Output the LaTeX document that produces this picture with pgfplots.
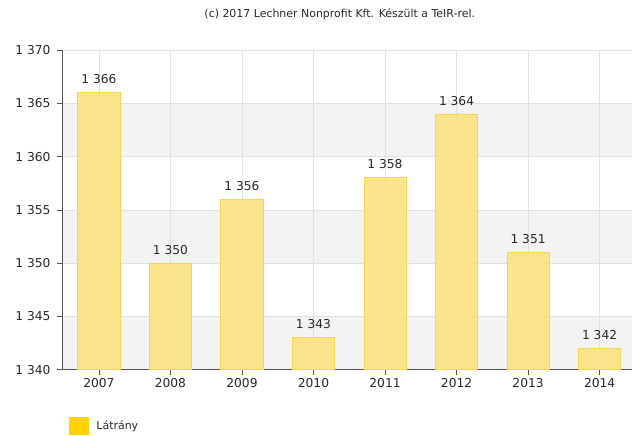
\documentclass[border=0pt]{standalone}
\usepackage{pgfplots}
\pgfplotsset{compat=1.18}
\usepackage{fontspec}
\setmainfont{DejaVu Sans}
\definecolor{barfill}{RGB}{250,226,128}
\definecolor{barline}{RGB}{246,214,80}
\definecolor{band}{RGB}{243,243,243}
\definecolor{gridc}{RGB}{225,225,225}
\definecolor{txt}{RGB}{40,40,40}
\definecolor{legc}{RGB}{255,210,0}
\begin{document}
\begin{tikzpicture}
\begin{axis}[
  set layers,
  at={(62bp,65bp)}, anchor=south west,
  scale only axis, width=570bp, height=320bp,
  xmin=-0.517, xmax=7.447,
  ymin=1340, ymax=1370,
  ytick={1340,1345,...,1370},
  xtick={0,...,7},
  xticklabels={2007,2008,2009,2010,2011,2012,2013,2014},
  axis x line*=bottom, axis y line*=left,
  x axis line style={-, draw=txt!80, line width=0.9pt},
  y axis line style={-, draw=txt!80, line width=0.9pt},
  tick align=outside, tick style={draw=txt!80, line width=0.7pt},
  major tick length=5bp,
  grid=major, grid style={draw=gridc, line width=0.5pt},
  /pgf/number format/assume math mode=true,
  /pgf/number format/1000 sep={\ },
  yticklabel style={font=\fontsize{12.3}{14}\selectfont, text=txt, xshift=-3bp, /pgf/number format/fixed},
  xticklabel style={font=\fontsize{12.3}{14}\selectfont, text=txt},
]
\addplot[fill=band, draw=none, on layer=axis background, forget plot] coordinates {(-0.517,1340) (7.447,1340) (7.447,1345) (-0.517,1345)} -- cycle;
\addplot[fill=band, draw=none, on layer=axis background, forget plot] coordinates {(-0.517,1350) (7.447,1350) (7.447,1355) (-0.517,1355)} -- cycle;
\addplot[fill=band, draw=none, on layer=axis background, forget plot] coordinates {(-0.517,1360) (7.447,1360) (7.447,1365) (-0.517,1365)} -- cycle;
\addplot[ybar, bar width=0.59, fill=barfill, fill opacity=0.9, draw=barline, line width=0.8pt, text opacity=1,
  nodes near coords,
  every node near coord/.append style={font=\fontsize{12.3}{14}\selectfont, text=txt, yshift=5bp, /pgf/number format/assume math mode=true, /pgf/number format/1000 sep={\ }}]
 coordinates {
(0,1366) (1,1350) (2,1356) (3,1343) (4,1358) (5,1364) (6,1351) (7,1342)};
\end{axis}
\path (0,0) rectangle (632bp,435bp);
\node[anchor=center, text=txt, font=\fontsize{11}{13}\selectfont] at (340bp,421bp) {(c) 2017 Lechner Nonprofit Kft. Készült a TeIR-rel.};
\fill[legc] (69bp,0bp) rectangle (89bp,18bp);
\node[anchor=west, text=txt, font=\fontsize{11}{13}\selectfont] at (93bp,8bp) {Látrány};
\end{tikzpicture}
\end{document}
